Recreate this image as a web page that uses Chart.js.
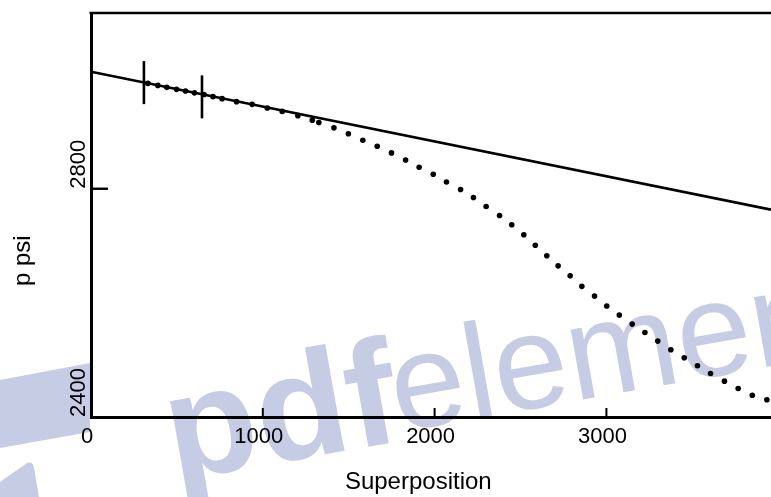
<!DOCTYPE html>
<html>
<head>
<meta charset="utf-8">
<script src="https://cdn.jsdelivr.net/npm/chart.js@4.4.1/dist/chart.umd.min.js"></script>
<style>
  html, body { margin: 0; padding: 0; background: #fff; overflow: hidden; }
  #wrap { position: relative; width: 771px; height: 497px; }
</style>
</head>
<body>
<div id="wrap"><canvas id="chart"></canvas></div>
<script>
// Measured pressure versus superposition time
const superposition = [
  331, 389, 441, 498, 550, 602, 658, 710, 763, 847,
  938, 1026, 1113, 1204, 1288, 1326, 1414, 1498, 1582, 1666,
  1749, 1831, 1910, 1992, 2069, 2151, 2226, 2300, 2378, 2449,
  2519, 2586, 2653, 2719, 2789, 2857, 2931, 3002, 3075, 3150,
  3224, 3299, 3375, 3453, 3530, 3606, 3687, 3767, 3849, 3934
];
const pressure = [
  2984.6, 2981.1, 2977.7, 2974.2, 2971.4, 2968.1, 2965.3, 2961.4, 2957.9, 2952.6,
  2947.9, 2941.6, 2935.6, 2928.1, 2920.2, 2916.1, 2906.7, 2896.3, 2885.1, 2874.6,
  2862.8, 2850.5, 2837.7, 2825.4, 2811.9, 2798.6, 2784.6, 2768.8, 2753.2, 2737.0,
  2719.3, 2700.9, 2682.5, 2664.9, 2647.4, 2629.0, 2611.9, 2594.4, 2578.6, 2562.8,
  2548.2, 2533.0, 2517.9, 2503.9, 2489.8, 2476.3, 2462.8, 2450.0, 2438.2, 2430.2
];

// Straight-line fit through the early data
const fitX = [0, 3958];
const fitY = [3005, 2763.4];

// Bounds of the fitted interval
const boundX = [308, 646];
const boundY = [2986, 2961];

// Axis ticks and titles
const xTicks = [0, 1000, 2000, 3000];
const yTicks = [2400, 2800];
const xTitle = 'Superposition';
const yTitle = 'p psi';

const INK = '#000';
const FONT = '"Liberation Sans", Arial, Helvetica, sans-serif';

const pts = (xs, ys) => xs.map((x, i) => ({ x, y: ys[i] }));

// Faint brand mark behind the plot
const backdrop = {
  id: 'backdrop',
  beforeDraw(chart) {
    const ctx = chart.ctx;
    ctx.save();
    ctx.fillStyle = 'rgb(199,204,229)';
    ctx.beginPath();
    ctx.moveTo(0, 380); ctx.lineTo(90, 363); ctx.lineTo(90, 432); ctx.lineTo(0, 448);
    ctx.closePath(); ctx.fill();
    ctx.beginPath();
    ctx.moveTo(0, 482); ctx.lineTo(27, 463);
    ctx.quadraticCurveTo(33, 461, 34, 468);
    ctx.lineTo(39, 497); ctx.lineTo(0, 497);
    ctx.closePath(); ctx.fill();
    const ang = -10 * Math.PI / 180;
    ctx.save();
    ctx.translate(174, 481); ctx.rotate(ang);
    ctx.font = 'bold 150px ' + FONT;
    ctx.textBaseline = 'alphabetic'; ctx.textAlign = 'left';
    ctx.fillText('pdf', 0, 0);
    ctx.restore();
    ctx.save();
    ctx.translate(398, 432); ctx.rotate(ang);
    ctx.font = '134px ' + FONT;
    ctx.textBaseline = 'alphabetic'; ctx.textAlign = 'left';
    ctx.fillText('element', 0, 0);
    ctx.restore();
    ctx.restore();
  }
};

// Frame top edge, inward ticks, tick labels and axis titles
const axesDecor = {
  id: 'axesDecor',
  afterDraw(chart) {
    const ctx = chart.ctx;
    const a = chart.chartArea;
    const xs = chart.scales.x, ys = chart.scales.y;
    ctx.save();
    ctx.strokeStyle = INK; ctx.fillStyle = INK;

    ctx.lineWidth = 2.6;
    ctx.beginPath(); ctx.moveTo(a.left - 1.5, a.top); ctx.lineTo(a.right, a.top); ctx.stroke();

    ctx.lineWidth = 2;
    xTicks.forEach(v => {
      if (v === xs.min) return;
      const px = xs.getPixelForValue(v);
      ctx.beginPath(); ctx.moveTo(px, a.bottom); ctx.lineTo(px, a.bottom - 9); ctx.stroke();
    });
    ctx.lineWidth = 2.4;
    yTicks.forEach(v => {
      if (v === ys.min) return;
      const py = ys.getPixelForValue(v);
      ctx.beginPath(); ctx.moveTo(a.left, py); ctx.lineTo(a.left + 17, py); ctx.stroke();
    });

    ctx.font = '22px ' + FONT;
    ctx.textAlign = 'center'; ctx.textBaseline = 'alphabetic';
    xTicks.forEach(v => {
      ctx.fillText(String(v), xs.getPixelForValue(v) - 4, 443);
    });
    yTicks.forEach(v => {
      ctx.save();
      ctx.translate(85, ys.getPixelForValue(v));
      ctx.rotate(-Math.PI / 2);
      ctx.textAlign = 'left';
      ctx.fillText(String(v), 0, 0);
      ctx.restore();
    });

    ctx.font = '24px ' + FONT;
    ctx.textAlign = 'center';
    ctx.fillText(xTitle, xs.getPixelForValue(1905), 489);
    ctx.save();
    ctx.translate(30, 286);
    ctx.rotate(-Math.PI / 2);
    ctx.textAlign = 'left';
    ctx.fillText(yTitle, 0, 0);
    ctx.restore();
    ctx.restore();
  }
};

new Chart(document.getElementById('chart'), {
  type: 'scatter',
  data: {
    datasets: [
      {
        label: 'fit',
        data: pts(fitX, fitY),
        showLine: true,
        borderColor: INK,
        borderWidth: 2.6,
        pointRadius: 0,
        order: 3
      },
      {
        label: 'bounds',
        data: pts(boundX, boundY),
        pointStyle: 'line',
        rotation: 90,
        pointRadius: 21.5,
        borderColor: INK,
        borderWidth: 2.6,
        order: 2
      },
      {
        label: 'pressure',
        data: pts(superposition, pressure),
        pointStyle: 'circle',
        pointRadius: 2.8,
        backgroundColor: INK,
        borderWidth: 0,
        order: 1
      }
    ]
  },
  options: {
    responsive: true,
    maintainAspectRatio: false,
    animation: false,
    events: [],
    layout: { autoPadding: false, padding: { left: 91, top: 13, right: 0, bottom: 80 } },
    plugins: { legend: { display: false }, tooltip: { enabled: false }, title: { display: false } },
    scales: {
      x: {
        type: 'linear', min: 0, max: 3958,
        ticks: { display: false },
        grid: { display: false, drawTicks: false },
        border: { display: true, color: INK, width: 3 }
      },
      y: {
        type: 'linear', min: 2400, max: 3108,
        ticks: { display: false },
        grid: { display: false, drawTicks: false },
        border: { display: true, color: INK, width: 3 }
      }
    }
  },
  plugins: [backdrop, axesDecor]
});
</script>
</body>
</html>
